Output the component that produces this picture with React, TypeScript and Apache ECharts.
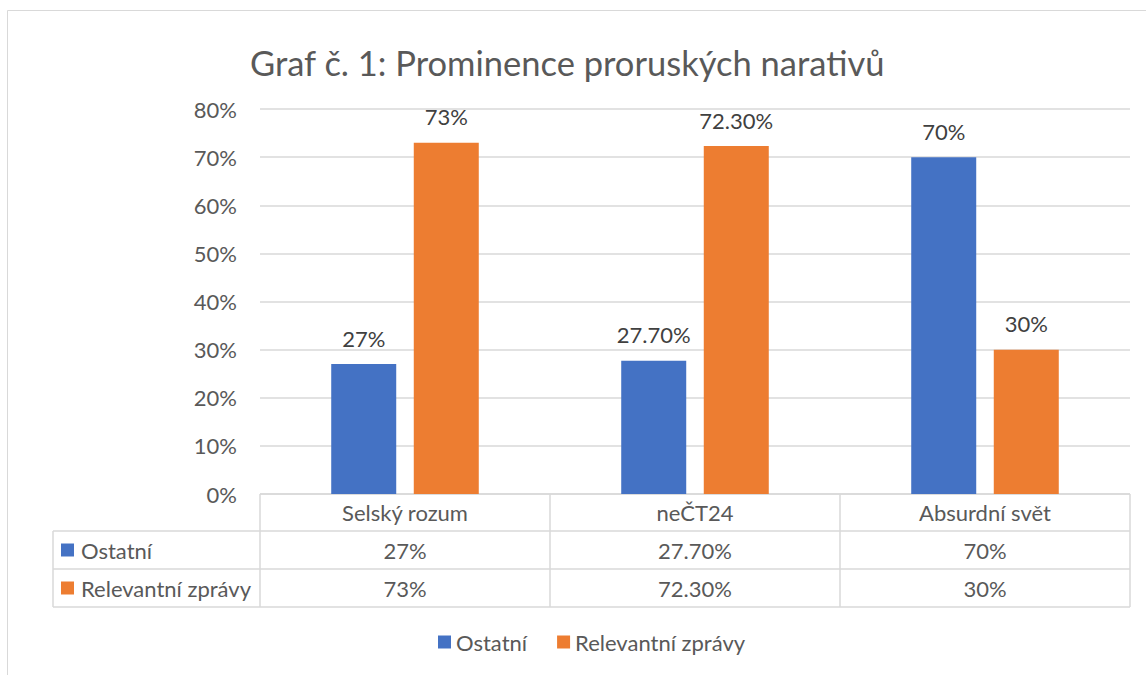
import React, { useEffect, useRef } from "react";
import * as echarts from "echarts";

const categories = ["Selský rozum", "neČT24", "Absurdní svět"];
const seriesNames = ["Ostatní", "Relevantní zprávy"];
const ostatni = [27, 27.7, 70];
const relevantni = [73, 72.3, 30];
const yTicks = [0, 10, 20, 30, 40, 50, 60, 70, 80];
const colors = ["#4472C4", "#ED7D31"];

const FONT = "Lato";
const FS = 22;
const fmt = (v: number) => (Number.isInteger(v) ? `${v}%` : `${v.toFixed(2)}%`);

export default function App() {
  const ref = useRef<HTMLDivElement>(null);
  useEffect(() => {
    if (!ref.current) return;
    const chart = echarts.init(ref.current, null, { renderer: "svg" });
    const L = 260, R = 1130, T = 109, B = 494;
    const rows = [494, 531, 569, 607];
    const colX = [260, 550, 840, 1130];
    const lineStyle = { stroke: "#d9d9d9", lineWidth: 1.5 };
    const graphics: any[] = [
      { type: "rect", shape: { x: 7.5, y: 10.5, width: 1200, height: 700 }, style: { fill: "none", stroke: "#d9d9d9", lineWidth: 1 }, silent: true },
      { type: "line", shape: { x1: L, y1: rows[0], x2: R, y2: rows[0] }, style: lineStyle },
      ...rows.slice(1).map((y) => ({ type: "line", shape: { x1: 53, y1: y, x2: R, y2: y }, style: lineStyle })),
      ...colX.map((x) => ({ type: "line", shape: { x1: x, y1: rows[0], x2: x, y2: rows[3] }, style: lineStyle })),
      { type: "line", shape: { x1: 53, y1: rows[1], x2: 53, y2: rows[3] }, style: lineStyle },
      ...seriesNames.flatMap((name, i) => {
        const cy = (rows[i + 1] + rows[i + 2]) / 2;
        return [
          { type: "rect", shape: { x: 61, y: cy - 6.5, width: 13, height: 13 }, style: { fill: colors[i] } },
          { type: "text", x: 81, y: cy, style: { text: name, fontFamily: FONT, fontSize: FS, fill: "#595959", verticalAlign: "middle", align: "left" } },
        ];
      }),
    ];
    const valueAxis = (data: number[], offset: number) => ({
      type: "category",
      data: data.map(fmt),
      gridIndex: 0,
      position: "bottom",
      offset,
      axisLine: { show: false },
      axisTick: { show: false },
      axisLabel: { fontFamily: FONT, fontSize: FS, color: "#595959", margin: 18.5, verticalAlign: "middle", interval: 0 },
    });
    chart.setOption({
      animation: false,
      textStyle: { fontFamily: FONT },
      title: {
        text: "Graf č. 1: Prominence proruských narativů",
        left: 245,
        top: 40,
        textStyle: { fontFamily: FONT, fontSize: 34.5, fontWeight: "normal", color: "#595959" },
      },
      legend: {
        data: seriesNames,
        bottom: 17,
        left: 433,
        itemWidth: 13,
        itemHeight: 13,
        itemGap: 30,
        icon: "rect",
        textStyle: { fontFamily: FONT, fontSize: FS, color: "#595959" },
      },
      grid: { left: L, right: 1146 - R, top: T, bottom: 675 - B, containLabel: false },
      xAxis: [
        {
          type: "category",
          data: categories,
          axisLine: { show: false },
          axisTick: { show: false },
          axisLabel: { fontFamily: FONT, fontSize: FS, color: "#595959", margin: 18.5, verticalAlign: "middle", interval: 0 },
        },
        valueAxis(ostatni, 37.5),
        valueAxis(relevantni, 75.5),
      ],
      yAxis: {
        type: "value",
        min: yTicks[0],
        max: yTicks[yTicks.length - 1],
        interval: 10,
        axisLabel: { formatter: "{value}%", fontFamily: FONT, fontSize: FS, color: "#595959", margin: 23 },
        axisLine: { show: false },
        axisTick: { show: false },
        splitLine: { lineStyle: { color: "#d9d9d9", width: 1.5 } },
      },
      series: [
        {
          name: seriesNames[0],
          type: "bar",
          data: ostatni,
          xAxisIndex: 0,
          barWidth: 65,
          barGap: "27%",
          itemStyle: { color: colors[0] },
          label: { show: true, position: "top", distance: 15, formatter: (p: any) => fmt(p.value), fontFamily: FONT, fontSize: FS, color: "#404040" },
        },
        {
          name: seriesNames[1],
          type: "bar",
          data: relevantni,
          xAxisIndex: 0,
          barWidth: 65,
          barGap: "27%",
          itemStyle: { color: colors[1] },
          label: { show: true, position: "top", distance: 15, formatter: (p: any) => fmt(p.value), fontFamily: FONT, fontSize: FS, color: "#404040" },
        },
      ],
      graphic: graphics,
    });
    return () => chart.dispose();
  }, []);
  return <div ref={ref} style={{ position: "fixed", left: 0, top: 0, width: 1146, height: 675, background: "#fff" }} />;
}
